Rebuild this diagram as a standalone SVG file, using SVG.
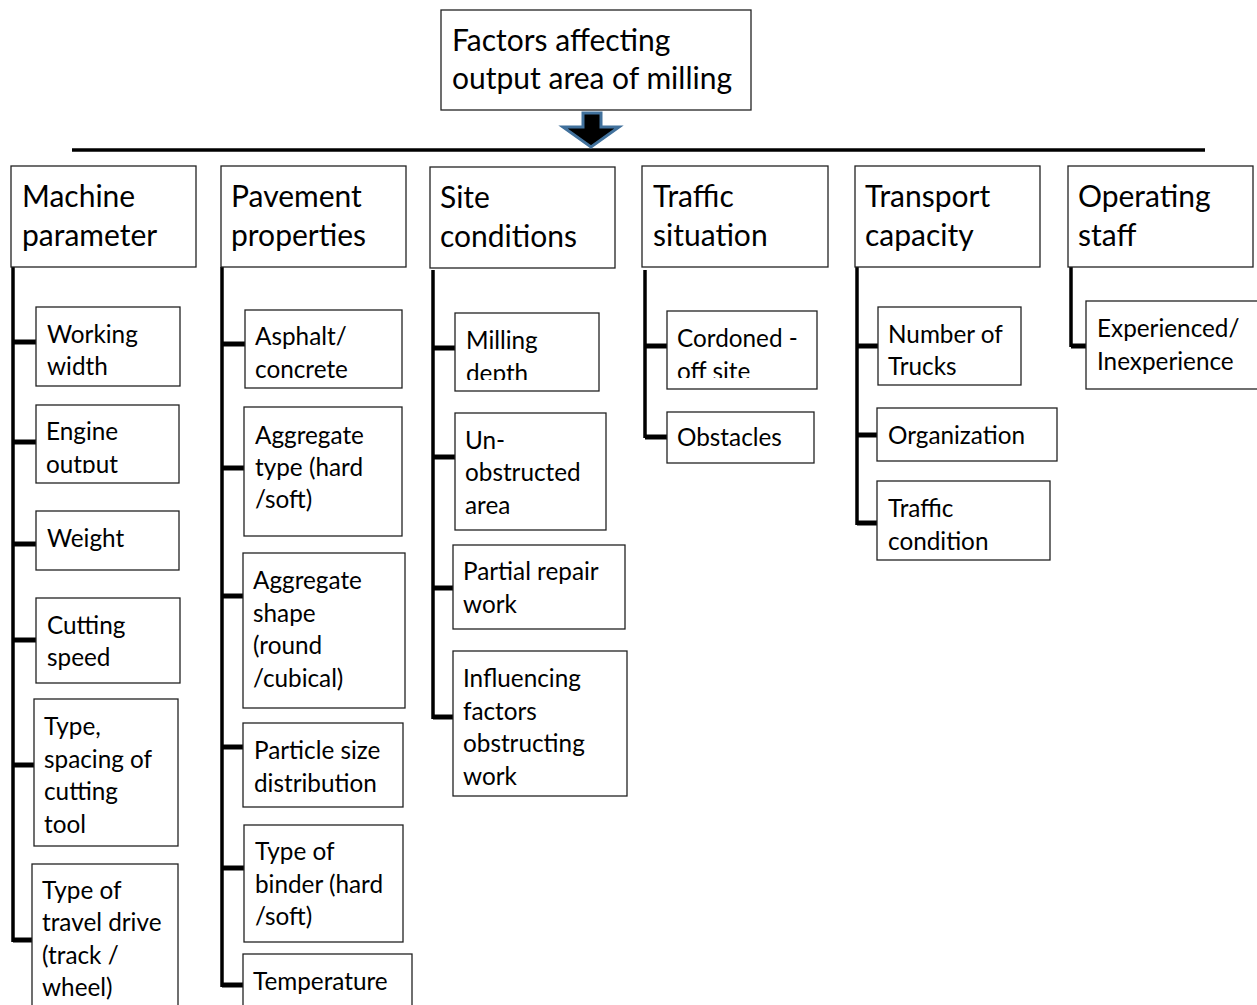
<svg xmlns="http://www.w3.org/2000/svg" width="1257" height="1005" viewBox="0 0 1257 1005">
<style>
.box{fill:#fff;stroke:#222;stroke-width:1.3}
.t{font-family:Lato,"Liberation Sans",sans-serif;fill:#000}
.c{font-size:30px}
.s{font-size:24.3px}
.ln{stroke:#000;fill:none;stroke-width:3.5}
.st{stroke:#000;fill:none;stroke-width:5}
</style>
<defs>
<clipPath id="clipEngine"><rect x="36" y="405" width="144" height="68"/></clipPath>
<clipPath id="clipMilling"><rect x="455" y="313" width="145" height="67"/></clipPath>
<clipPath id="clipCordon"><rect x="667" y="311" width="151" height="67"/></clipPath>
</defs>
<rect width="1257" height="1005" fill="#fff"/>
<g id="connectors">
<line class="ln" x1="72" y1="150" x2="1205" y2="150"/>
<polygon points="583,113 601,113 601,127 619,127 591,147 563,127 583,127" fill="#000" stroke="#41719C" stroke-width="3" stroke-linejoin="miter"/>
<line class="ln" x1="13" y1="265" x2="13" y2="942"/>
<line class="st" x1="13" y1="342" x2="36" y2="342"/>
<line class="st" x1="13" y1="442" x2="36" y2="442"/>
<line class="st" x1="13" y1="544" x2="36" y2="544"/>
<line class="st" x1="13" y1="640" x2="36" y2="640"/>
<line class="st" x1="13" y1="765" x2="34" y2="765"/>
<line class="st" x1="13" y1="940" x2="32" y2="940"/>
<line class="ln" x1="222" y1="267" x2="222" y2="987"/>
<line class="st" x1="222" y1="344" x2="245" y2="344"/>
<line class="st" x1="222" y1="468" x2="244" y2="468"/>
<line class="st" x1="222" y1="596" x2="243" y2="596"/>
<line class="st" x1="222" y1="747" x2="243" y2="747"/>
<line class="st" x1="222" y1="868" x2="244" y2="868"/>
<line class="st" x1="222" y1="985" x2="243" y2="985"/>
<line class="ln" x1="433" y1="270" x2="433" y2="719"/>
<line class="st" x1="433" y1="348" x2="455" y2="348"/>
<line class="st" x1="433" y1="457" x2="455" y2="457"/>
<line class="st" x1="433" y1="588" x2="453" y2="588"/>
<line class="st" x1="433" y1="717" x2="453" y2="717"/>
<line class="ln" x1="645" y1="270" x2="645" y2="438"/>
<line class="st" x1="645" y1="346" x2="667" y2="346"/>
<line class="st" x1="645" y1="437" x2="667" y2="437"/>
<line class="ln" x1="857" y1="267" x2="857" y2="525"/>
<line class="st" x1="857" y1="346" x2="878" y2="346"/>
<line class="st" x1="857" y1="435" x2="877" y2="435"/>
<line class="st" x1="857" y1="523" x2="877" y2="523"/>
<line class="ln" x1="1071" y1="267" x2="1071" y2="347"/>
<line class="st" x1="1071" y1="346" x2="1087" y2="346"/>
</g>
<g id="root">
<rect class="box" x="441" y="10" width="310" height="100"/>
<text class="t c" x="452" y="51">Factors affecting</text>
<text class="t c" x="452" y="89">output area of milling</text>
</g>
<g id="machine">
<rect class="box" x="11" y="166" width="185" height="101"/>
<text class="t c" x="22" y="207">Machine</text>
<text class="t c" x="22" y="246">parameter</text>
</g>
<g id="pavement">
<rect class="box" x="221" y="166" width="185" height="101"/>
<text class="t c" x="231" y="207">Pavement</text>
<text class="t c" x="231" y="246">properties</text>
</g>
<g id="site">
<rect class="box" x="430" y="167" width="185" height="101"/>
<text class="t c" x="440" y="208">Site</text>
<text class="t c" x="440" y="247">conditions</text>
</g>
<g id="traffic">
<rect class="box" x="642" y="166" width="186" height="101"/>
<text class="t c" x="653" y="207">Traffic</text>
<text class="t c" x="653" y="246">situation</text>
</g>
<g id="transport">
<rect class="box" x="855" y="166" width="185" height="101"/>
<text class="t c" x="865" y="207">Transport</text>
<text class="t c" x="865" y="246">capacity</text>
</g>
<g id="staff">
<rect class="box" x="1068" y="166" width="185" height="101"/>
<text class="t c" x="1078" y="207">Operating</text>
<text class="t c" x="1078" y="246">staff</text>
</g>
<g id="working-width">
<rect class="box" x="36" y="307" width="144" height="79"/>
<text class="t s" x="47" y="343">Working</text>
<text class="t s" x="47" y="375">width</text>
</g>
<g id="engine-output">
<rect class="box" x="36" y="405" width="143" height="78"/>
<g clip-path="url(#clipEngine)">
<text class="t s" x="46" y="440">Engine</text>
<text class="t s" x="46" y="473">output</text>
</g>
</g>
<g id="weight">
<rect class="box" x="36" y="511" width="143" height="59"/>
<text class="t s" x="47" y="547">Weight</text>
</g>
<g id="cutting-speed">
<rect class="box" x="36" y="598" width="144" height="85"/>
<text class="t s" x="47" y="634">Cutting</text>
<text class="t s" x="47" y="666">speed</text>
</g>
<g id="cutting-tool">
<rect class="box" x="34" y="699" width="144" height="147"/>
<text class="t s" x="44" y="735">Type,</text>
<text class="t s" x="44" y="768">spacing of</text>
<text class="t s" x="44" y="800">cutting</text>
<text class="t s" x="44" y="833">tool</text>
</g>
<g id="travel-drive">
<rect class="box" x="32" y="864" width="146" height="150"/>
<text class="t s" x="42" y="899">Type of</text>
<text class="t s" x="42" y="931">travel drive</text>
<text class="t s" x="42" y="964">(track /</text>
<text class="t s" x="42" y="996">wheel)</text>
</g>
<g id="asphalt">
<rect class="box" x="245" y="310" width="157" height="78"/>
<text class="t s" x="255" y="345">Asphalt/</text>
<text class="t s" x="255" y="378">concrete</text>
</g>
<g id="aggregate-type">
<rect class="box" x="244" y="407" width="158" height="129"/>
<text class="t s" x="255" y="444">Aggregate</text>
<text class="t s" x="255" y="476">type (hard</text>
<text class="t s" x="255" y="508">/soft)</text>
</g>
<g id="aggregate-shape">
<rect class="box" x="243" y="553" width="162" height="155"/>
<text class="t s" x="253" y="589">Aggregate</text>
<text class="t s" x="253" y="622">shape</text>
<text class="t s" x="253" y="654">(round</text>
<text class="t s" x="253" y="687">/cubical)</text>
</g>
<g id="particle-size">
<rect class="box" x="243" y="723" width="160" height="84"/>
<text class="t s" x="254" y="759">Particle size</text>
<text class="t s" x="254" y="792">distribution</text>
</g>
<g id="binder">
<rect class="box" x="244" y="825" width="159" height="117"/>
<text class="t s" x="255" y="860">Type of</text>
<text class="t s" x="255" y="893">binder (hard</text>
<text class="t s" x="255" y="925">/soft)</text>
</g>
<g id="temperature">
<rect class="box" x="243" y="954" width="169" height="60"/>
<text class="t s" x="253" y="990">Temperature</text>
</g>
<g id="milling-depth">
<rect class="box" x="455" y="313" width="144" height="78"/>
<g clip-path="url(#clipMilling)">
<text class="t s" x="466" y="349">Milling</text>
<text class="t s" x="466" y="382">depth</text>
</g>
</g>
<g id="unobstructed">
<rect class="box" x="455" y="413" width="151" height="117"/>
<text class="t s" x="465" y="449">Un-</text>
<text class="t s" x="465" y="481">obstructed</text>
<text class="t s" x="465" y="514">area</text>
</g>
<g id="partial-repair">
<rect class="box" x="453" y="545" width="172" height="84"/>
<text class="t s" x="463" y="580">Partial repair</text>
<text class="t s" x="463" y="613">work</text>
</g>
<g id="influencing">
<rect class="box" x="453" y="651" width="174" height="145"/>
<text class="t s" x="463" y="687">Influencing</text>
<text class="t s" x="463" y="720">factors</text>
<text class="t s" x="463" y="752">obstructing</text>
<text class="t s" x="463" y="785">work</text>
</g>
<g id="cordoned">
<rect class="box" x="667" y="311" width="150" height="78"/>
<g clip-path="url(#clipCordon)">
<text class="t s" x="677" y="347">Cordoned -</text>
<text class="t s" x="677" y="380">off site</text>
</g>
</g>
<g id="obstacles">
<rect class="box" x="667" y="412" width="147" height="51"/>
<text class="t s" x="677" y="446">Obstacles</text>
</g>
<g id="trucks">
<rect class="box" x="878" y="307" width="143" height="78"/>
<text class="t s" x="888" y="343">Number of</text>
<text class="t s" x="888" y="375">Trucks</text>
</g>
<g id="organization">
<rect class="box" x="877" y="408" width="180" height="53"/>
<text class="t s" x="888" y="444">Organization</text>
</g>
<g id="traffic-condition">
<rect class="box" x="877" y="481" width="173" height="79"/>
<text class="t s" x="888" y="517">Traffic</text>
<text class="t s" x="888" y="550">condition</text>
</g>
<g id="experience">
<rect class="box" x="1086" y="301" width="180" height="88"/>
<text class="t s" x="1097" y="337">Experienced/</text>
<text class="t s" x="1097" y="370">Inexperience</text>
</g>
</svg>
